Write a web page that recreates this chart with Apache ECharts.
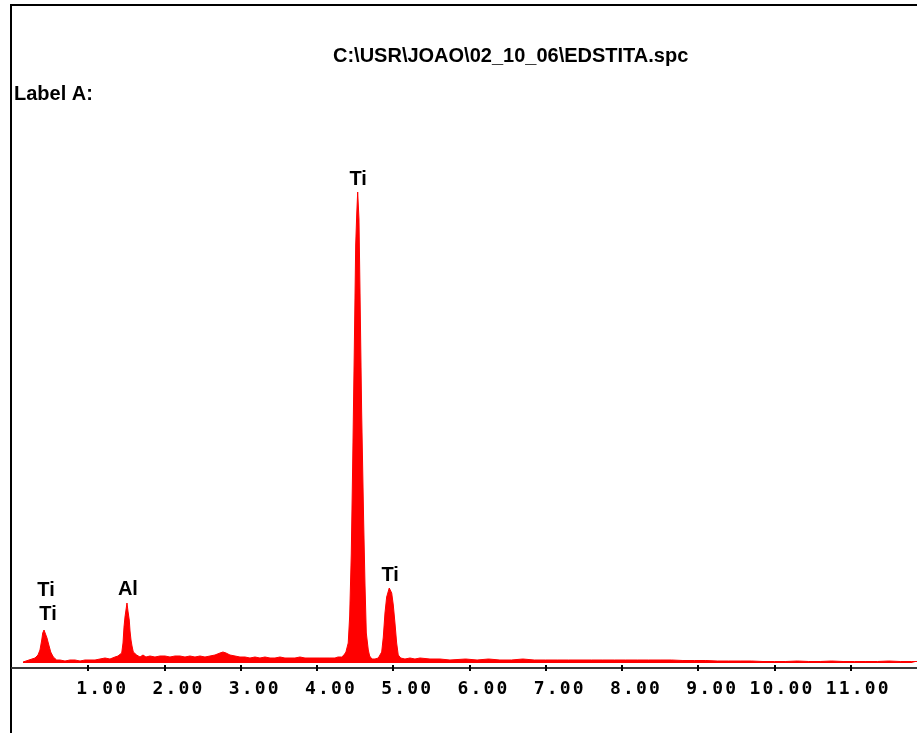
<!DOCTYPE html>
<html>
<head>
<meta charset="utf-8">
<script src="https://cdn.jsdelivr.net/npm/echarts@6/dist/echarts.min.js"></script>
<style>html,body{margin:0;padding:0;background:#fff;}#c{width:917px;height:733px;}</style>
</head>
<body>
<div id="c"></div>
<script>
// EDS spectrum: energy (keV) and counts (arbitrary units)
const energyKeV = [0.144,0.184,0.223,0.262,0.302,0.341,0.367,0.390,0.403,0.420,0.439,0.459,0.476,0.508,0.542,0.586,0.630,0.695,0.761,0.826,0.892,0.957,1.023,1.089,1.154,1.220,1.285,1.351,1.390,1.416,1.439,1.456,1.469,1.482,1.495,1.508,1.521,1.538,1.548,1.561,1.574,1.591,1.613,1.635,1.679,1.718,1.757,1.810,1.875,1.941,2.007,2.072,2.138,2.203,2.269,2.334,2.400,2.466,2.531,2.597,2.662,2.728,2.767,2.807,2.859,2.925,2.990,3.056,3.121,3.187,3.252,3.318,3.384,3.449,3.515,3.580,3.646,3.711,3.777,3.843,3.908,3.974,4.039,4.105,4.170,4.236,4.275,4.324,4.354,4.380,4.393,4.410,4.429,4.450,4.468,4.489,4.508,4.522,4.534,4.551,4.564,4.586,4.612,4.630,4.647,4.673,4.691,4.721,4.761,4.804,4.849,4.870,4.892,4.914,4.948,4.980,5.001,5.023,5.045,5.066,5.098,5.154,5.220,5.285,5.351,5.482,5.613,5.744,5.95,6.10,6.25,6.40,6.55,6.70,6.85,7.00,7.15,7.30,7.45,7.60,7.75,7.90,8.05,8.20,8.35,8.50,8.65,8.80,8.95,9.10,9.25,9.40,9.55,9.70,9.85,10.00,10.15,10.30,10.45,10.60,10.75,10.90,11.05,11.20,11.35,11.50,11.65,11.80,11.87];
const counts = [1,2,3,4,5,8,13,23,30,33,31,25,20,11,6,3,3,2,3,3,2,3,3,3,4,5,4,6,7,8,10,20,36,46,53,60,52,43,32,23,17,11,9,8,6,8,6,7,6,7,7,6,7,7,6,7,6,7,6,7,8,10,11,10,8,7,6,6,5,6,5,6,5,5,6,5,5,5,6,5,5,5,5,5,5,5,6,6,8,11,15,20,47,109,197,311,418,450,471,444,374,251,143,78,30,13,7,4,4,5,11,26,50,66,75,70,58,40,20,8,5,4,5,4,5,4,4,3,4,3,4,3,3,4,3,3,3,3,3,3,3,3,3,3,3,3,3,2.5,2.5,2.5,2,2,2,2,1.5,1.5,1.5,2,1.5,1.5,2,1.5,1.5,1.5,1.5,2,1.5,1.5,1.5];
const tickValues = [1,2,3,4,5,6,7,8,9,10,11];
const peakLabels = ['Ti','Ti','Al','Ti','Ti'];
const peakLabelEnergy = [0.446,0.472,1.52,4.54,4.96];
const peakLabelHeight = [73,49,74,484,88];
const titleText = 'C:\\USR\\JOAO\\02_10_06\\EDSTITA.spc';
const labelAText = 'Label A:';
const xMax = 11.87;

const chart = echarts.init(document.getElementById('c'), null, {renderer:'canvas'});
const spectrum = energyKeV.map((e,i)=>[e, counts[i]]);
const labelPts = peakLabels.map((n,i)=>({name:n, value:[peakLabelEnergy[i], peakLabelHeight[i]]}));

function fmt(v){
  const s = v.toFixed(2);
  const ip = s.split('.')[0];
  let out = '';
  for (let k = ip.length; k < 3; k++) out += '{p| }';
  for (const ch of s) out += '{d|' + ch + '}';
  return out;
}

const txtFont = {fontFamily:'"Liberation Sans", Arial, sans-serif', fontWeight:'bold', fontSize:20, color:'#000'};

chart.setOption({
  animation:false,
  backgroundColor:'#fff',
  title:[
    {text:titleText, left:333, top:46, padding:0, textStyle:Object.assign({}, txtFont)},
    {text:labelAText, left:14, top:84, padding:0, textStyle:Object.assign({}, txtFont)}
  ],
  grid:[
    {left:12, right:0, top:63, bottom:70, containLabel:false},
    {left:12, right:0, top:63, bottom:65, containLabel:false},
    {left:12, right:0, top:63, bottom:68, containLabel:false}
  ],
  xAxis:[
    {type:'value', gridIndex:0, min:0, max:xMax, show:false},
    {type:'value', gridIndex:1, position:'bottom', min:0, max:xMax, interval:1,
     axisLine:{show:true, lineStyle:{color:'#3a3a3a', width:2}},
     axisTick:{show:false},
     axisLabel:{show:true, customValues:tickValues, margin:12, formatter:fmt,
       rich:{
         d:{width:13, align:'center', fontFamily:'"DejaVu Sans Mono", monospace', fontWeight:'bold', fontSize:18, color:'#000'},
         p:{width:13, align:'center', fontSize:18}
       }},
     splitLine:{show:false}},
    {type:'value', gridIndex:2, position:'bottom', min:0, max:xMax, interval:1,
     axisLine:{show:false},
     axisTick:{show:true, length:6, customValues:tickValues, lineStyle:{color:'#000', width:2}},
     axisLabel:{show:false}, splitLine:{show:false}}
  ],
  yAxis:[
    {type:'value', gridIndex:0, min:0, max:600, show:false, splitLine:{show:false}},
    {type:'value', gridIndex:1, min:0, max:1, show:false, splitLine:{show:false}},
    {type:'value', gridIndex:2, min:0, max:1, show:false, splitLine:{show:false}}
  ],
  series:[
    {type:'line', data:spectrum, symbol:'none', xAxisIndex:0, yAxisIndex:0,
     lineStyle:{color:'#ff0000', width:1}, itemStyle:{color:'#ff0000'},
     areaStyle:{color:'#ff0000', opacity:1}},
    {type:'scatter', data:labelPts, symbolSize:0, xAxisIndex:0, yAxisIndex:0,
     itemStyle:{opacity:1},
     label:{show:true, position:'inside', formatter:'{b}', opacity:1, fontFamily:'"Liberation Sans", Arial, sans-serif', fontWeight:'bold', fontSize:20, color:'#000'}}
  ],
  graphic:[
    {type:'line', shape:{x1:11, y1:5, x2:917, y2:5}, style:{stroke:'#000', lineWidth:2}},
    {type:'line', shape:{x1:11, y1:4, x2:11, y2:733}, style:{stroke:'#000', lineWidth:2}}
  ]
});
</script>
</body>
</html>
